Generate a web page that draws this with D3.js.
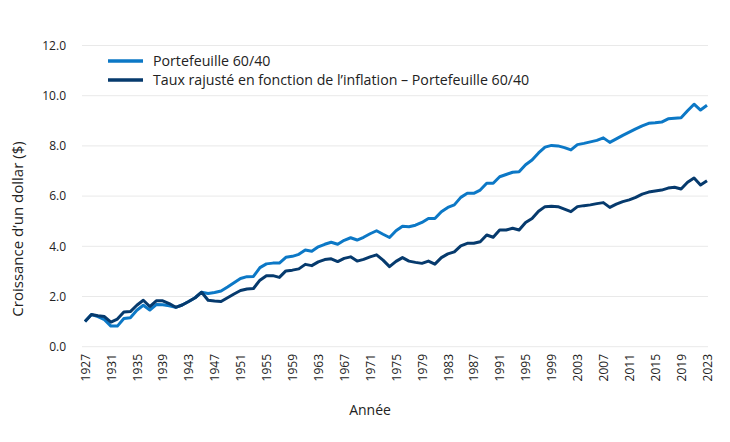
<!DOCTYPE html>
<html>
<head>
<meta charset="utf-8">
<script src="https://cdn.jsdelivr.net/npm/d3@7"></script>
<style>
  html, body { margin: 0; padding: 0; background: #fff; }
  svg { display: block; font-family: "Open Sans", "Noto Sans", sans-serif; }
</style>
</head>
<body>
<svg id="chart" width="730" height="442"></svg>
<script>
const years = d3.range(1927, 2024);
const portfolio = [
  1.00, 1.28, 1.20, 1.08, 0.82, 0.82, 1.12, 1.15, 1.45, 1.65,
  1.46, 1.68, 1.67, 1.63, 1.57, 1.66, 1.80, 1.95, 2.17, 2.12,
  2.16, 2.22, 2.38, 2.55, 2.72, 2.79, 2.80, 3.15, 3.30, 3.33,
  3.33, 3.56, 3.60, 3.68, 3.85, 3.80, 3.98, 4.08, 4.16, 4.08,
  4.24, 4.34, 4.25, 4.36, 4.50, 4.62, 4.48, 4.35, 4.62, 4.80,
  4.78, 4.84, 4.95, 5.11, 5.11, 5.38, 5.55, 5.65, 5.95, 6.11,
  6.11, 6.24, 6.51, 6.51, 6.77, 6.86, 6.95, 6.97, 7.25, 7.44,
  7.72, 7.95, 8.02, 8.00, 7.93, 7.84, 8.05, 8.10, 8.16, 8.22,
  8.32, 8.14, 8.28, 8.42, 8.55, 8.68, 8.80, 8.90, 8.92, 8.95,
  9.08, 9.10, 9.12, 9.40, 9.66, 9.43, 9.62
];
const realPortfolio = [
  1.00, 1.28, 1.23, 1.20, 0.98, 1.10, 1.38, 1.40, 1.65, 1.85,
  1.60, 1.83, 1.83, 1.72, 1.57, 1.66, 1.80, 1.95, 2.17, 1.85,
  1.82, 1.80, 1.95, 2.10, 2.24, 2.30, 2.32, 2.65, 2.83, 2.83,
  2.76, 3.02, 3.05, 3.10, 3.28, 3.23, 3.38, 3.47, 3.50, 3.39,
  3.52, 3.58, 3.41, 3.48, 3.58, 3.66, 3.45, 3.19, 3.40, 3.55,
  3.41, 3.36, 3.32, 3.41, 3.29, 3.55, 3.70, 3.78, 4.02, 4.12,
  4.12, 4.18, 4.45, 4.36, 4.65, 4.65, 4.72, 4.65, 4.95, 5.11,
  5.40, 5.58, 5.60, 5.58, 5.48, 5.38, 5.58, 5.62, 5.65, 5.70,
  5.74, 5.55, 5.68, 5.78, 5.85, 5.95, 6.08, 6.16, 6.20, 6.24,
  6.32, 6.35, 6.28, 6.55, 6.72, 6.44, 6.61
];
const yTicks = [0, 2, 4, 6, 8, 10, 12];
const xTickYears = d3.range(1927, 2024, 4);
const seriesNames = ["Portefeuille 60/40", "Taux rajusté en fonction de l’inflation – Portefeuille 60/40"];
const seriesColors = ["#0c78c6", "#063a6d"];
const yTitle = "Croissance d’un dollar ($)";
const xTitle = "Année";

const svg = d3.select("#chart");
const x = d3.scalePoint().domain(years).range([85, 707]);
const y = d3.scaleLinear().domain([0, 12]).range([346.7, 45.5]);

// gridlines
svg.append("g").selectAll("line").data(yTicks).join("line")
  .attr("x1", 82).attr("x2", 708)
  .attr("y1", d => y(d)).attr("y2", d => y(d))
  .attr("stroke", "#e9e9e9").attr("stroke-width", 1);

// y axis
const yAxis = svg.append("g").attr("transform", "translate(66,0)")
  .call(d3.axisLeft(y).tickValues(yTicks).tickFormat(d3.format(".1f")).tickSize(0).tickPadding(0));
yAxis.select(".domain").remove();
yAxis.selectAll("text").attr("font-size", 12).attr("fill", "#222").attr("font-family", "Open Sans, sans-serif");

// x axis
const xAxis = svg.append("g").attr("transform", "translate(0,354)")
  .call(d3.axisBottom(x).tickValues(xTickYears).tickSize(0).tickPadding(0));
xAxis.select(".domain").remove();
xAxis.selectAll("text")
  .attr("font-size", 12).attr("fill", "#222").attr("font-family", "Open Sans, sans-serif")
  .attr("transform", "rotate(-90)")
  .attr("text-anchor", "end")
  .attr("x", 0).attr("y", 0).attr("dy", "0.35em");

// lines
const line = d3.line().x((d, i) => x(years[i])).y(d => y(d));
[portfolio, realPortfolio].forEach((s, k) => {
  svg.append("path").datum(s)
    .attr("d", line)
    .attr("fill", "none")
    .attr("stroke", seriesColors[k])
    .attr("stroke-width", 3)
    .attr("stroke-linejoin", "round");
});

// legend
const legend = svg.append("g");
seriesNames.forEach((name, k) => {
  const ly = 61 + k * 19;
  legend.append("line").attr("x1", 108).attr("x2", 143).attr("y1", ly).attr("y2", ly)
    .attr("stroke", seriesColors[k]).attr("stroke-width", 3.5);
  legend.append("text").attr("x", 153).attr("y", ly).attr("dy", "0.35em")
    .attr("font-size", 14.2).attr("fill", "#222").text(name);
});

// titles
svg.append("text").attr("transform", "translate(23,229) rotate(-90)")
  .attr("text-anchor", "middle").attr("font-size", 15).attr("fill", "#222").text(yTitle);
svg.append("text").attr("x", 370).attr("y", 415)
  .attr("text-anchor", "middle").attr("font-size", 14).attr("fill", "#222").text(xTitle);
</script>
</body>
</html>
